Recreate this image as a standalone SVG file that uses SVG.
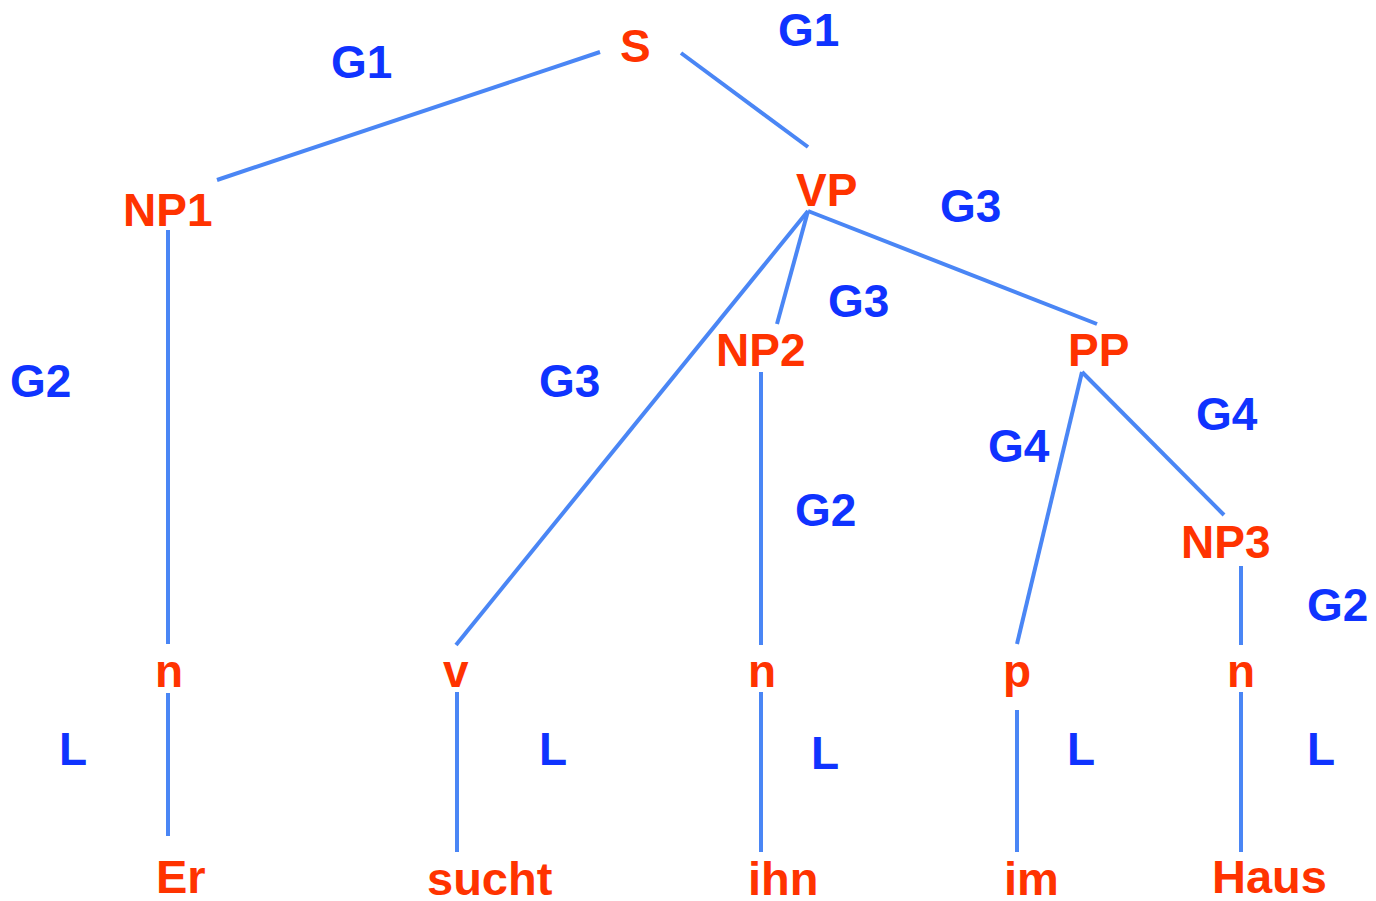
<svg xmlns="http://www.w3.org/2000/svg" width="1376" height="901" viewBox="0 0 1376 901">
  <style>
    .cat { font-family: "Liberation Sans", Arial, sans-serif; font-weight: bold; font-size: 46px; fill: #FF3300; }
    .word { font-size: 47px; }
    .rule { font-family: "Liberation Sans", Arial, sans-serif; font-weight: bold; font-size: 46px; fill: #0F33FF; }
    .edges line { stroke: #4A86F5; stroke-width: 4; stroke-linecap: butt; }
  </style>
  <rect width="1376" height="901" fill="#FFFFFF"/>

  <!-- tree branches -->
  <g id="edges" class="edges">
    <line x1="600" y1="52" x2="217" y2="180"/>
    <line x1="681" y1="53" x2="808" y2="147"/>
    <line x1="168" y1="230" x2="168" y2="644"/>
    <line x1="168" y1="693" x2="168" y2="836"/>
    <line x1="808" y1="211" x2="456" y2="645"/>
    <line x1="808" y1="211" x2="777" y2="324"/>
    <line x1="808" y1="211" x2="1097" y2="324"/>
    <line x1="761" y1="372" x2="761" y2="645"/>
    <line x1="761" y1="692" x2="761" y2="852"/>
    <line x1="457" y1="692" x2="457" y2="852"/>
    <line x1="1082" y1="372" x2="1017" y2="644"/>
    <line x1="1082" y1="372" x2="1224" y2="515"/>
    <line x1="1241" y1="566" x2="1241" y2="645"/>
    <line x1="1241" y1="692" x2="1241" y2="852"/>
    <line x1="1017" y1="710" x2="1017" y2="852"/>
  </g>

  <!-- phrase and word nodes -->
  <g id="node-S"><text class="cat" x="620" y="62">S</text></g>
  <g id="node-NP1"><text class="cat" x="123" y="226">NP1</text></g>
  <g id="node-VP"><text class="cat" x="796" y="206">VP</text></g>
  <g id="node-NP2"><text class="cat" x="716" y="366">NP2</text></g>
  <g id="node-PP"><text class="cat" x="1068" y="366">PP</text></g>
  <g id="node-NP3"><text class="cat" x="1181" y="558">NP3</text></g>
  <g id="node-n1"><text class="cat" x="155" y="687">n</text></g>
  <g id="node-v"><text class="cat" x="443" y="687">v</text></g>
  <g id="node-n2"><text class="cat" x="748" y="687">n</text></g>
  <g id="node-p"><text class="cat" x="1003" y="687">p</text></g>
  <g id="node-n3"><text class="cat" x="1227" y="687">n</text></g>
  <g id="node-Er"><text class="cat word" x="156" y="893">Er</text></g>
  <g id="node-sucht"><text class="cat word" x="427" y="895">sucht</text></g>
  <g id="node-ihn"><text class="cat word" x="748" y="895">ihn</text></g>
  <g id="node-im"><text class="cat word" x="1004" y="895">im</text></g>
  <g id="node-Haus"><text class="cat word" x="1212" y="893">Haus</text></g>

  <!-- rule labels -->
  <g id="rule-labels">
    <text class="rule" x="331" y="78">G1</text>
    <text class="rule" x="778" y="46">G1</text>
    <text class="rule" x="940" y="222">G3</text>
    <text class="rule" x="828" y="317">G3</text>
    <text class="rule" x="539" y="397">G3</text>
    <text class="rule" x="10" y="397">G2</text>
    <text class="rule" x="795" y="526">G2</text>
    <text class="rule" x="1307" y="621">G2</text>
    <text class="rule" x="1196" y="430">G4</text>
    <text class="rule" x="988" y="462">G4</text>
    <text class="rule" x="59" y="765">L</text>
    <text class="rule" x="539" y="765">L</text>
    <text class="rule" x="811" y="769">L</text>
    <text class="rule" x="1067" y="765">L</text>
    <text class="rule" x="1307" y="765">L</text>
  </g>
</svg>
